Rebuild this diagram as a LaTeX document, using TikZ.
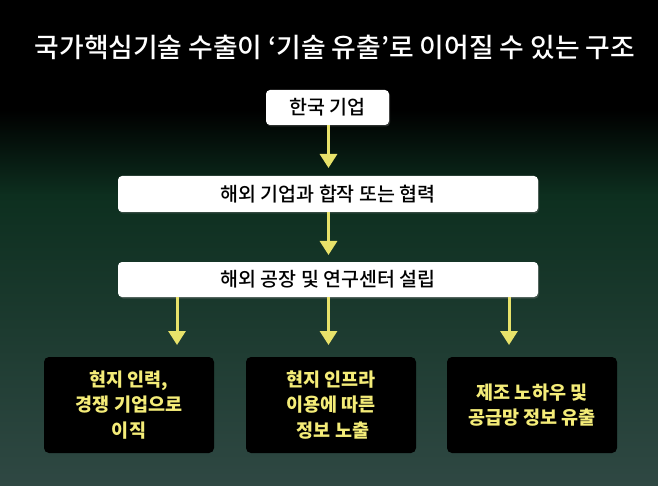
\documentclass[tikz,border=0pt]{standalone}
\usepackage{fontspec}
\setmainfont{Noto Sans CJK KR}
\newfontfamily\krmed{Noto Sans CJK KR Medium}
\usetikzlibrary{arrows.meta,shadows}
\definecolor{bgA}{HTML}{0D2F1F}
\definecolor{bgB}{HTML}{2F4843}
\definecolor{arrowyel}{HTML}{E8E26A}
\definecolor{txtyel}{HTML}{F4EC78}
\tikzset{
  whitebox/.style={fill=white, rounded corners=4pt, text=black, font=\krmed\fontsize{19.5}{23}\selectfont, inner sep=0pt,
    drop shadow={opacity=0.35, shadow xshift=1pt, shadow yshift=-1.5pt}},
  blackbox/.style={fill=black, rounded corners=5pt, text=txtyel, font=\fontsize{18.5}{25.5}\selectfont\bfseries, align=center, minimum width=170pt, minimum height=96pt, inner sep=0pt},
  arr/.style={draw=arrowyel, line width=3pt, -{Triangle[width=17pt,length=14pt]}, shorten >=0pt},
}
\begin{document}
\begin{tikzpicture}[x=1pt,y=-1pt]
\useasboundingbox (0,0) rectangle (658,486);
% background
\fill[black] (0,0) rectangle (658,111);
\shade[top color=black, bottom color=bgA] (0,110) rectangle (658,196);
\shade[top color=bgA, bottom color=bgB] (0,195) rectangle (658,486);
% title
\node[text=white, font=\krmed\fontsize{26.8}{32}\selectfont] (title) at (335,47) {국가핵심기술 수출이 ‘기술 유출’로 이어질 수 있는 구조};
% boxes
\node[whitebox, minimum width=123pt, minimum height=35pt] (b1) at (327.5,107.5) {한국 기업};
\node[whitebox, minimum width=420pt, minimum height=36pt] (b2) at (328,194) {해외 기업과 합작 또는 협력};
\node[whitebox, minimum width=420pt, minimum height=35pt] (b3) at (328,279.5) {해외 공장 및 연구센터 설립};
\node[blackbox] (c1) at (129,405) {현지 인력,\\경쟁 기업으로\\이직};
\node[blackbox] (c2) at (331,405) {현지 인프라\\이용에 따른\\\hspace*{4pt}정보 노출};
\node[blackbox] (c3) at (532,405) {제조 노하우 및\\공급망 정보 유출};
% arrow tips
\coordinate (t1) at (328.5,168);
\coordinate (t2) at (328.5,255);
\coordinate (tA) at (177,345);
\coordinate (tB) at (328.5,345);
\coordinate (tC) at (509,345);
\draw[arr] (b1.south -| t1) -- (t1);
\draw[arr] (b2.south -| t2) -- (t2);
\draw[arr] (b3.south -| tA) -- (tA);
\draw[arr] (b3.south -| tB) -- (tB);
\draw[arr] (b3.south -| tC) -- (tC);
\end{tikzpicture}
\end{document}
